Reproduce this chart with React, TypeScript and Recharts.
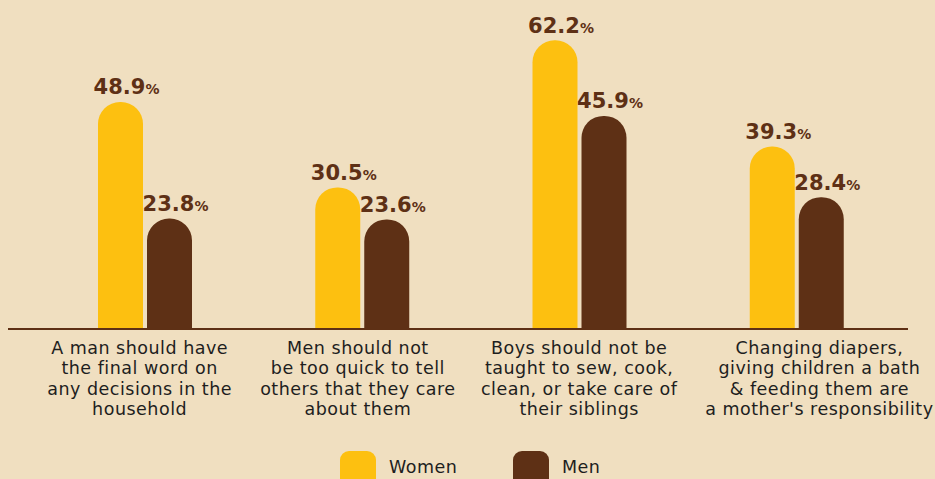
import { BarChart, Bar, XAxis, YAxis, LabelList } from "recharts";

const categories = [
  ["A man should have", "the final word on", "any decisions in the", "household"],
  ["Men should not", "be too quick to tell", "others that they care", "about them"],
  ["Boys should not be", "taught to sew, cook,", "clean, or take care of", "their siblings"],
  ["Changing diapers,", "giving children a bath", "& feeding them are", "a mother's responsibility"],
];
const women = [48.9, 30.5, 62.2, 39.3];
const men = [23.8, 23.6, 45.9, 28.4];
const seriesNames = ["Women", "Men"];

// horizontal nudge of each category label, px
const labelShift = [-5, -4, 0, 23];

const YELLOW = "#FDC010";
const BROWN = "#5E3015";
const BG = "#F0DFC0";
const TEXT = "#1E1E1E";
const FONT = "'DejaVu Sans', sans-serif";

const data = categories.map((lines, i) => ({
  name: String(i),
  women: women[i],
  men: men[i],
}));

const CategoryTick = (props: any) => {
  const { x, y, payload } = props;
  const i = Number(payload.value);
  const lines = categories[i];
  const cx = x + labelShift[i];
  return (
    <text
      x={cx}
      y={y + 17}
      textAnchor="middle"
      fill={TEXT}
      fontFamily={FONT}
      fontSize={17.5}
      letterSpacing={0.5}
    >
      {lines.map((l, k) => (
        <tspan key={k} x={cx} dy={k === 0 ? 0 : 20.4}>
          {l}
        </tspan>
      ))}
    </text>
  );
};

const ValueLabel = (props: any) => {
  const { x, y, width, value } = props;
  return (
    <text
      x={x + width / 2 + 6}
      y={y - 7.5}
      textAnchor="middle"
      fill={BROWN}
      fontFamily={FONT}
      fontWeight="bold"
    >
      <tspan fontSize={21}>{value.toFixed(1)}</tspan>
      <tspan fontSize={14}>%</tspan>
    </text>
  );
};

export default function App() {
  const colors = [YELLOW, BROWN];
  const lefts = [340, 513];
  return (
    <div
      style={{
        position: "fixed",
        left: 0,
        top: 0,
        width: 935,
        height: 479,
        background: BG,
        overflow: "hidden",
      }}
    >
      <BarChart
        width={935}
        height={479}
        data={data}
        margin={{ top: 4, right: 27, bottom: 0, left: 8 }}
        barSize={45}
        barGap={4}
      >
        <YAxis hide domain={[0, 70]} />
        <XAxis
          dataKey="name"
          axisLine={{ stroke: BROWN, strokeWidth: 2 }}
          tickLine={false}
          tick={<CategoryTick />}
          interval={0}
          height={150}
          padding={{ left: 28, right: 3 }}
        />
        <Bar dataKey="women" fill={YELLOW} radius={[22, 22, 0, 0]} isAnimationActive={false}>
          <LabelList dataKey="women" content={<ValueLabel />} />
        </Bar>
        <Bar dataKey="men" fill={BROWN} radius={[22, 22, 0, 0]} isAnimationActive={false}>
          <LabelList dataKey="men" content={<ValueLabel />} />
        </Bar>
      </BarChart>
      {seriesNames.map((name, i) => (
        <div
          key={name}
          style={{
            position: "absolute",
            left: lefts[i],
            top: 451,
            display: "flex",
            fontFamily: FONT,
            fontSize: 17.5,
            color: TEXT,
          }}
        >
          <div style={{ width: 36, height: 36, borderRadius: 9, background: colors[i] }} />
          <span style={{ marginLeft: 13, marginTop: 6, letterSpacing: 0.5 }}>{name}</span>
        </div>
      ))}
    </div>
  );
}
